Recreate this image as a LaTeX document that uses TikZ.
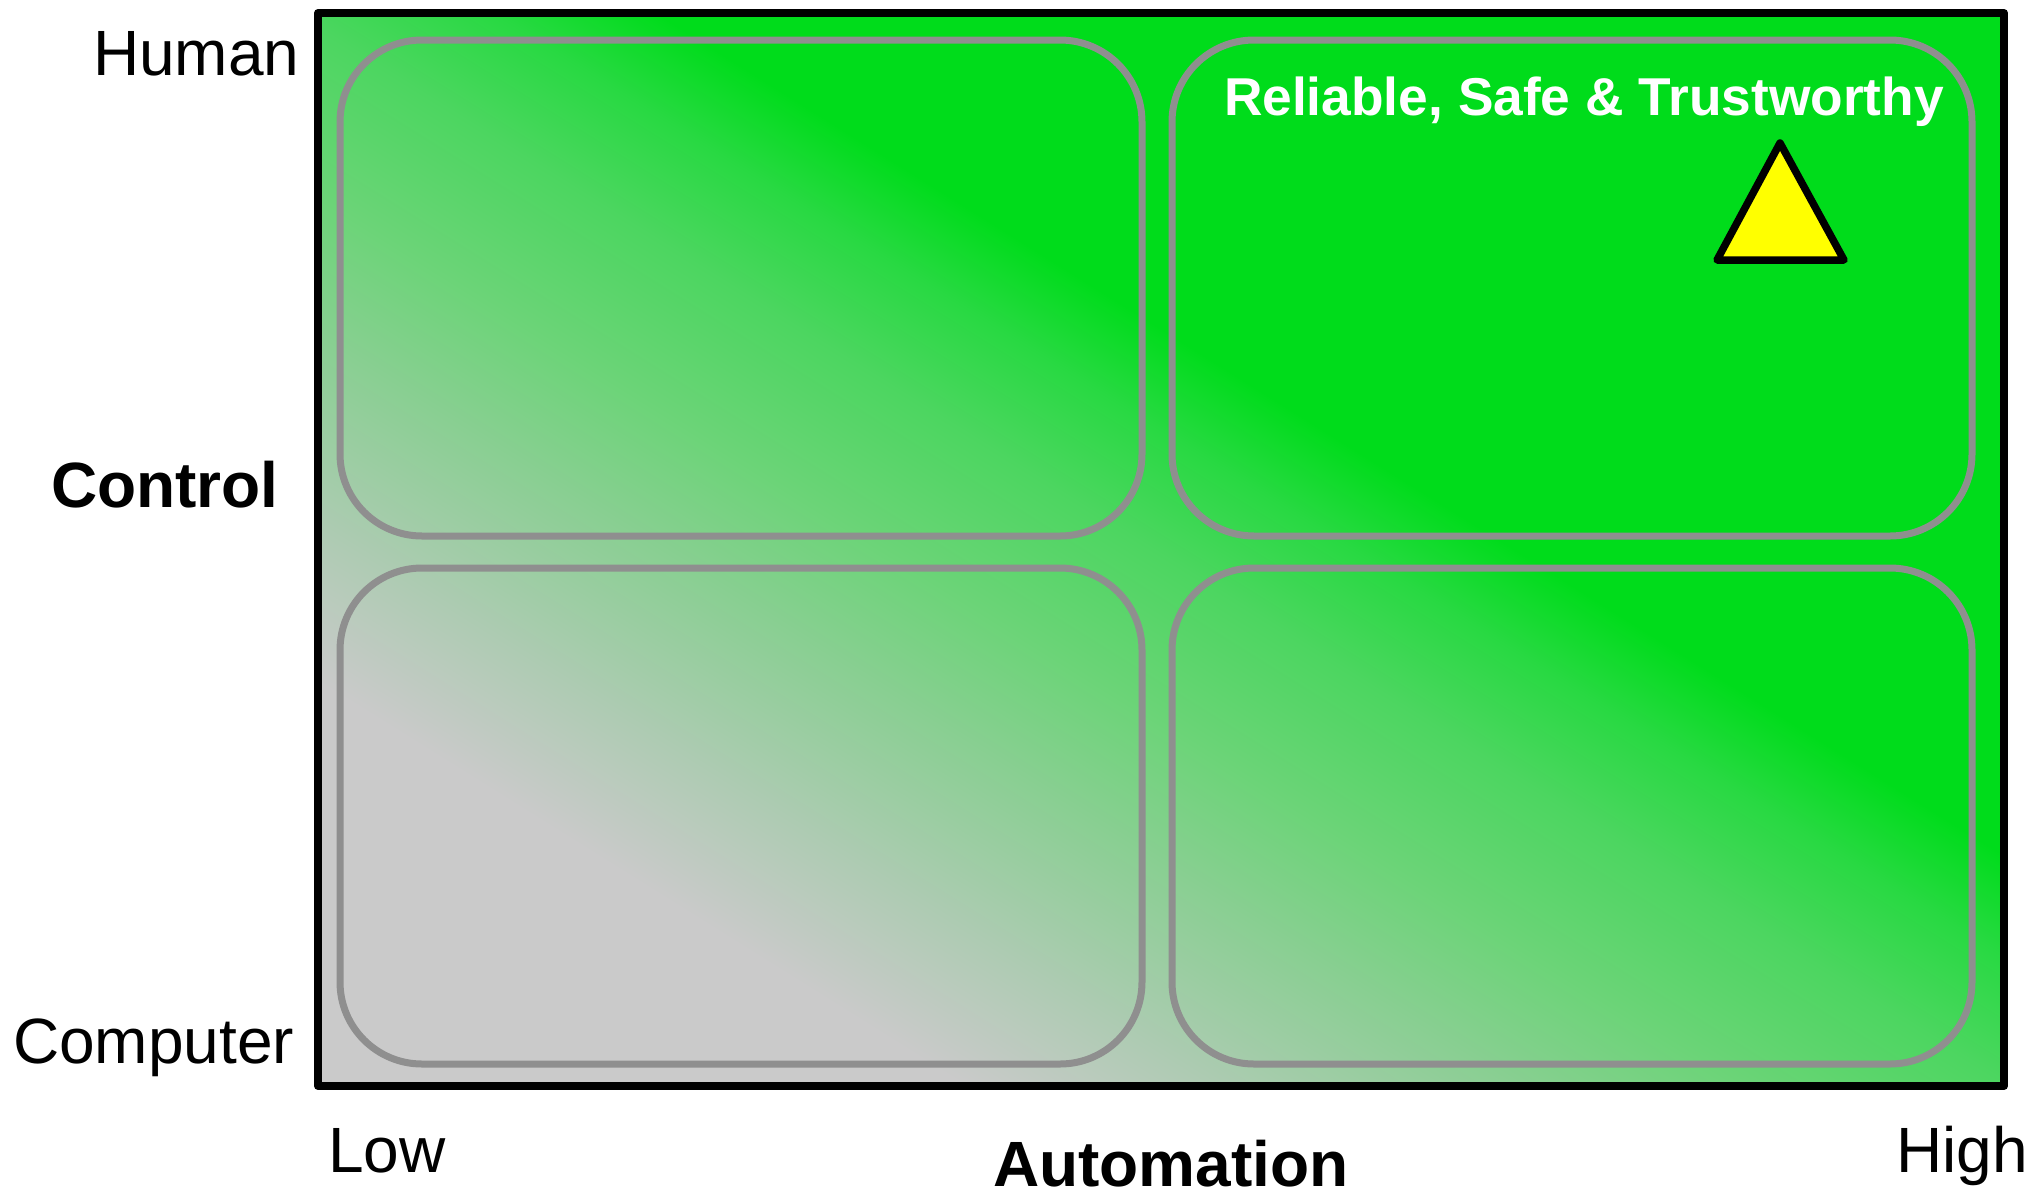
\documentclass[tikz,border=0pt]{standalone}
\usepackage{fontspec}
\setmainfont{Liberation Sans}
\definecolor{basegray}{HTML}{CACACA}
\definecolor{basegreen}{HTML}{00DC1B}
\definecolor{panelgray}{HTML}{8F8F8F}
\definecolor{markeryellow}{HTML}{FFFF00}
\definecolor{gA}{RGB}{173,203,178}
\definecolor{gB}{RGB}{136,207,145}
\definecolor{gC}{RGB}{108,212,120}
\definecolor{gD}{RGB}{76,214,96}
\definecolor{gE}{RGB}{40,217,66}
\pgfdeclarehorizontalshading{fieldramp}{100bp}{
  color(0bp)=(basegray); color(25bp)=(basegray);
  color(33.97bp)=(gA); color(44.81bp)=(gB); color(52.51bp)=(gC);
  color(62.15bp)=(gD); color(69.24bp)=(gE);
  color(75bp)=(basegreen); color(100bp)=(basegreen)}
\tikzset{
  x=1pt,y=-1pt,
  panel/.style={draw=panelgray,line width=7pt,rounded corners=82pt},
  frameline/.style={draw=black,line width=8pt,line join=round},
  marker/.style={draw=black,fill=markeryellow,line width=7.5pt,line join=round},
  lab/.style={anchor=base west,inner sep=0pt,outer sep=0pt,font=\fontsize{64}{64}\selectfont},
  blab/.style={lab,font=\fontsize{64}{64}\selectfont\bfseries},
  band/.style={x=1pt,y=1pt,transform canvas={shift={(-217.3pt,-347.7pt)},rotate=58}},
}
\begin{document}
\begin{tikzpicture}
\useasboundingbox (0,0) rectangle (2031,1191);
\begin{scope}
  \clip (318,13) rectangle (2004,1087);
  \fill[basegray] (318,13) rectangle (2004,1087);
  \shade[band,shading=fieldramp] (0,-2600) rectangle (747,2600);
  \fill[band,basegreen] (746,-2600) rectangle (2600,2600);
\end{scope}
\draw[frameline] (318,13) rectangle (2004,1086);
\draw[panel] (340,40) rectangle (1142,536);
\draw[panel] (1172,40) rectangle (1972,536);
\draw[panel] (340,568) rectangle (1142,1064);
\draw[panel] (1172,568) rectangle (1972,1064);
\draw[marker] (1780,143) -- (1844,260) -- (1717,260) -- cycle;
\node[lab] (human) at (93,75) {Human};
\node[blab] (control) at (51,507) {Control};
\node[lab] (computer) at (13,1063) {Computer};
\node[lab] (low) at (328,1172) {Low};
\node[blab] (automation) at (993,1186) {Automation};
\node[lab] (high) at (1896,1172) {High};
\node[anchor=base west,inner sep=0pt,outer sep=0pt,text=white,font=\fontsize{53.3}{53.3}\selectfont\bfseries] (quality) at (1224,115) {Reliable, Safe \& Trustworthy};
\end{tikzpicture}
\end{document}
